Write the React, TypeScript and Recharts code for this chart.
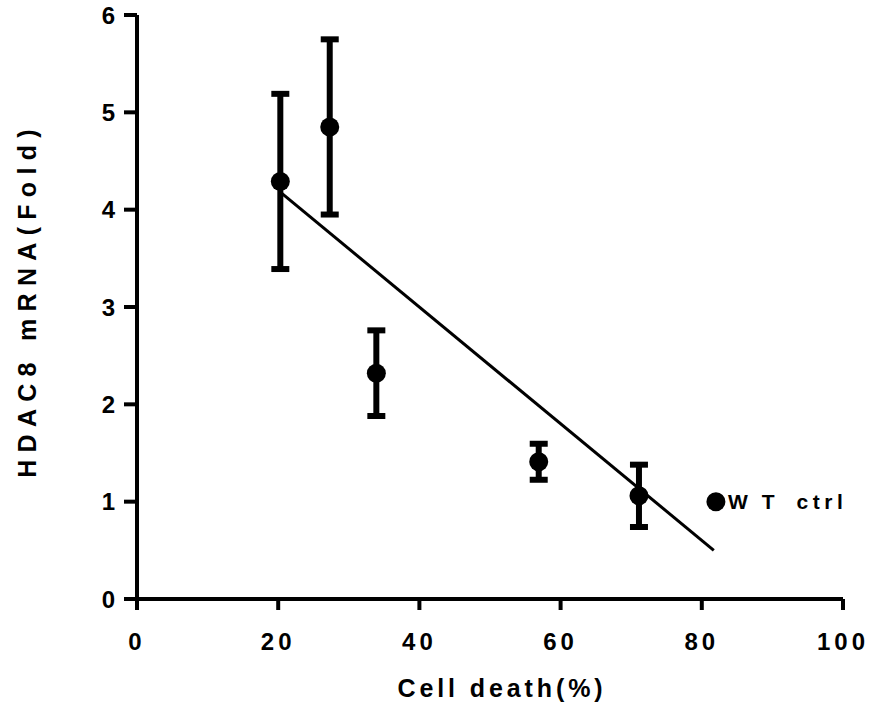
import { ScatterChart, Scatter, XAxis, YAxis, ErrorBar, ReferenceLine, Label } from 'recharts';

// cell death (%) vs HDAC8 mRNA fold change, mean ± SEM
const cellDeath = [20.3, 27.3, 33.9, 56.9, 71.1];
const hdac8Fold = [4.29, 4.85, 2.32, 1.41, 1.06];
const foldSem = [0.9, 0.9, 0.44, 0.185, 0.32];

// wild-type control
const wtDeath = [82.0];
const wtFold = [1.0];

// linear fit endpoints
const fitX = [20.3, 81.7];
const fitY = [4.18, 0.5];

const xTicks = [0, 20, 40, 60, 80, 100];
const yTicks = [0, 1, 2, 3, 4, 5, 6];

const FONT = '"Liberation Sans", Arial, sans-serif';

const samples = cellDeath.map((x, i) => ({ x, y: hdac8Fold[i], err: foldSem[i] }));
const wtPoints = wtDeath.map((x, i) => ({ x, y: wtFold[i] }));

const Dot = (p: any) => <circle cx={p.cx} cy={p.cy} r={9.5} fill="#000" />;

const WtDot = (p: any) => (
  <g>
    <circle cx={p.cx} cy={p.cy} r={9.5} fill="#000" />
    <text
      x={p.cx + 12}
      y={p.cy}
      dy={7}
      fontFamily={FONT}
      fontWeight="bold"
      fontSize={21}
      fill="#000"
    >
      <tspan letterSpacing={14}>WT</tspan>
      <tspan dx={8} letterSpacing={4.5}>ctrl</tspan>
    </text>
  </g>
);

const XTick = ({ x, y, payload }: any) => (
  <text
    x={x}
    y={y}
    dy={32}
    textAnchor="middle"
    fontFamily={FONT}
    fontWeight="bold"
    fontSize={24}
    letterSpacing={4}
    fill="#000"
  >
    {payload.value}
  </text>
);

const YTick = ({ x, y, payload }: any) => (
  <text
    x={x}
    y={y}
    dy={8.5}
    textAnchor="end"
    fontFamily={FONT}
    fontWeight="bold"
    fontSize={24}
    fill="#000"
  >
    {payload.value}
  </text>
);

export default function App() {
  return (
    <div style={{ position: 'absolute', left: 0, top: 0, background: '#fff' }}>
      <ScatterChart
        width={872}
        height={713}
        margin={{ top: 15, right: 29, bottom: 20, left: 0 }}
      >
        <XAxis
          type="number"
          dataKey="x"
          domain={[0, 100]}
          ticks={xTicks}
          height={94}
          tickSize={11}
          tickMargin={8}
          axisLine={{ stroke: '#000', strokeWidth: 4 }}
          tickLine={{ stroke: '#000', strokeWidth: 4 }}
          tick={<XTick />}
        >
          <Label
            value="Cell death(%)"
            position="insideBottom"
            offset={-4}
            dx={12}
            style={{
              fontFamily: FONT,
              fontWeight: 'bold',
              fontSize: 25,
              letterSpacing: 3.9,
              fill: '#000',
            }}
          />
        </XAxis>
        <YAxis
          type="number"
          dataKey="y"
          domain={[0, 6]}
          ticks={yTicks}
          width={137}
          tickSize={13}
          tickMargin={9}
          axisLine={{ stroke: '#000', strokeWidth: 4 }}
          tickLine={{ stroke: '#000', strokeWidth: 4 }}
          tick={<YTick />}
        >
          <Label
            value="HDAC8 mRNA(Fold)"
            angle={-90}
            position="insideLeft"
            offset={27}
            dy={-7}
            style={{
              textAnchor: 'middle',
              fontFamily: FONT,
              fontWeight: 'bold',
              fontSize: 25,
              letterSpacing: 7.3,
              fill: '#000',
            }}
          />
        </YAxis>
        <ReferenceLine
          segment={[
            { x: fitX[0], y: fitY[0] },
            { x: fitX[1], y: fitY[1] },
          ]}
          stroke="#000"
          strokeWidth={3}
          ifOverflow="visible"
        />
        <Scatter data={samples} shape={Dot} isAnimationActive={false}>
          <ErrorBar
            dataKey="err"
            direction="y"
            width={9}
            stroke="#000"
            strokeWidth={6}
            isAnimationActive={false}
          />
        </Scatter>
        <Scatter data={wtPoints} shape={WtDot} isAnimationActive={false} />
      </ScatterChart>
    </div>
  );
}
